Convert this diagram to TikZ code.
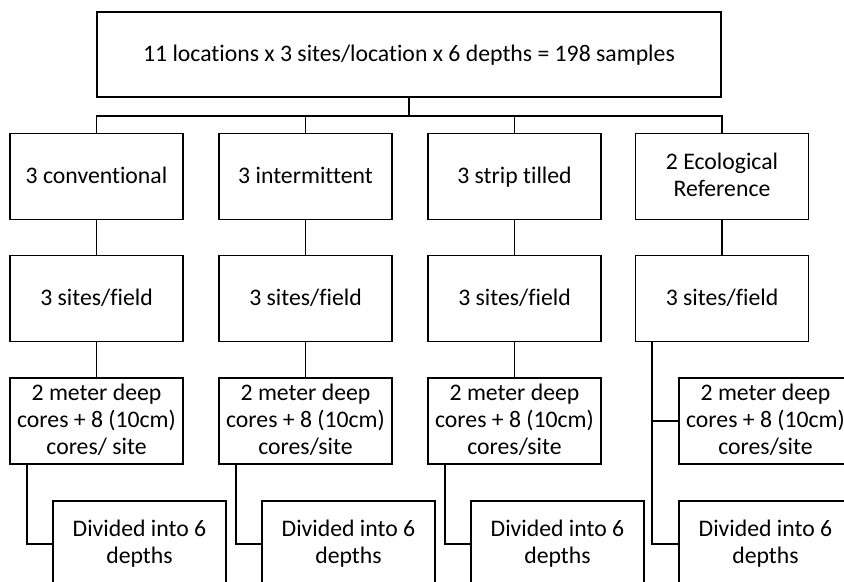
\documentclass[tikz,border=0pt]{standalone}
\usepackage{fontspec}
\setmainfont{Carlito}[Ligatures=NoCommon]
\newcommand{\boxstrut}{\rule[-2.5pt]{0pt}{15.5pt}}
\begin{document}
\begin{tikzpicture}[x=0.75pt, y=-0.75pt, line width=1.2pt,
  main/.style = {draw, rectangle, align=center, inner sep=1pt,
    minimum width=129.75pt, minimum height=64.5pt,
    font=\fontsize{17.8}{20}\selectfont,
    execute at begin node=\boxstrut, execute at end node=\boxstrut}]
\useasboundingbox (0,0) rectangle (844,582);
\clip (0,0) rectangle (844,582);

\node[main, minimum width=468pt, minimum height=63.75pt] (top) at (409,54.5)
  {11 locations x 3 sites/location x 6 depths = 198 samples};

% treatments
\node[main] (a1) at (96.5,176.5) {3 conventional};
\node[main] (a2) at (305.5,176.5) {3 intermittent};
\node[main] (a3) at (514.5,176.5) {3 strip tilled};
\node[main] (a4) at (722,176.5) {2 Ecological\\Reference};

% sites
\node[main] (b1) at (96.5,298.5) {3 sites/field};
\node[main] (b2) at (305.5,298.5) {3 sites/field};
\node[main] (b3) at (514.5,298.5) {3 sites/field};
\node[main] (b4) at (722,298.5) {3 sites/field};

% cores
\node[main] (c1) at (96.5,421) {2 meter deep\\cores + 8 (10cm)\\cores/ site};
\node[main] (c2) at (305.5,421) {2 meter deep\\cores + 8 (10cm)\\cores/site};
\node[main] (c3) at (514.5,421) {2 meter deep\\cores + 8 (10cm)\\cores/site};
\node[main] (c4) at (765.5,421) {2 meter deep\\cores + 8 (10cm)\\cores/site};

% depths
\node[main] (d1) at (139.5,544) {Divided into 6\\depths};
\node[main] (d2) at (348.5,544) {Divided into 6\\depths};
\node[main] (d3) at (557.5,544) {Divided into 6\\depths};
\node[main] (d4) at (765.5,544) {Divided into 6\\depths};

\coordinate (bar) at (409,116);
\draw (top.south) -- (bar);
\foreach \n in {a1,a2,a3,a4}
  \draw (bar) -| (\n.north);

\draw (a1) -- (b1);
\draw (a2) -- (b2);
\draw (a3) -- (b3);
\draw (a4) -- (b4);

\draw (b1) -- (c1);
\draw (b2) -- (c2);
\draw (b3) -- (c3);

\draw ([xshift=13.5pt]c1.south west) |- (d1.west);
\draw ([xshift=13.5pt]c2.south west) |- (d2.west);
\draw ([xshift=13.5pt]c3.south west) |- (d3.west);
\draw ([xshift=12.75pt]b4.south west) |- (c4.west);
\draw ([xshift=12.75pt]b4.south west) |- (d4.west);
\end{tikzpicture}
\end{document}
